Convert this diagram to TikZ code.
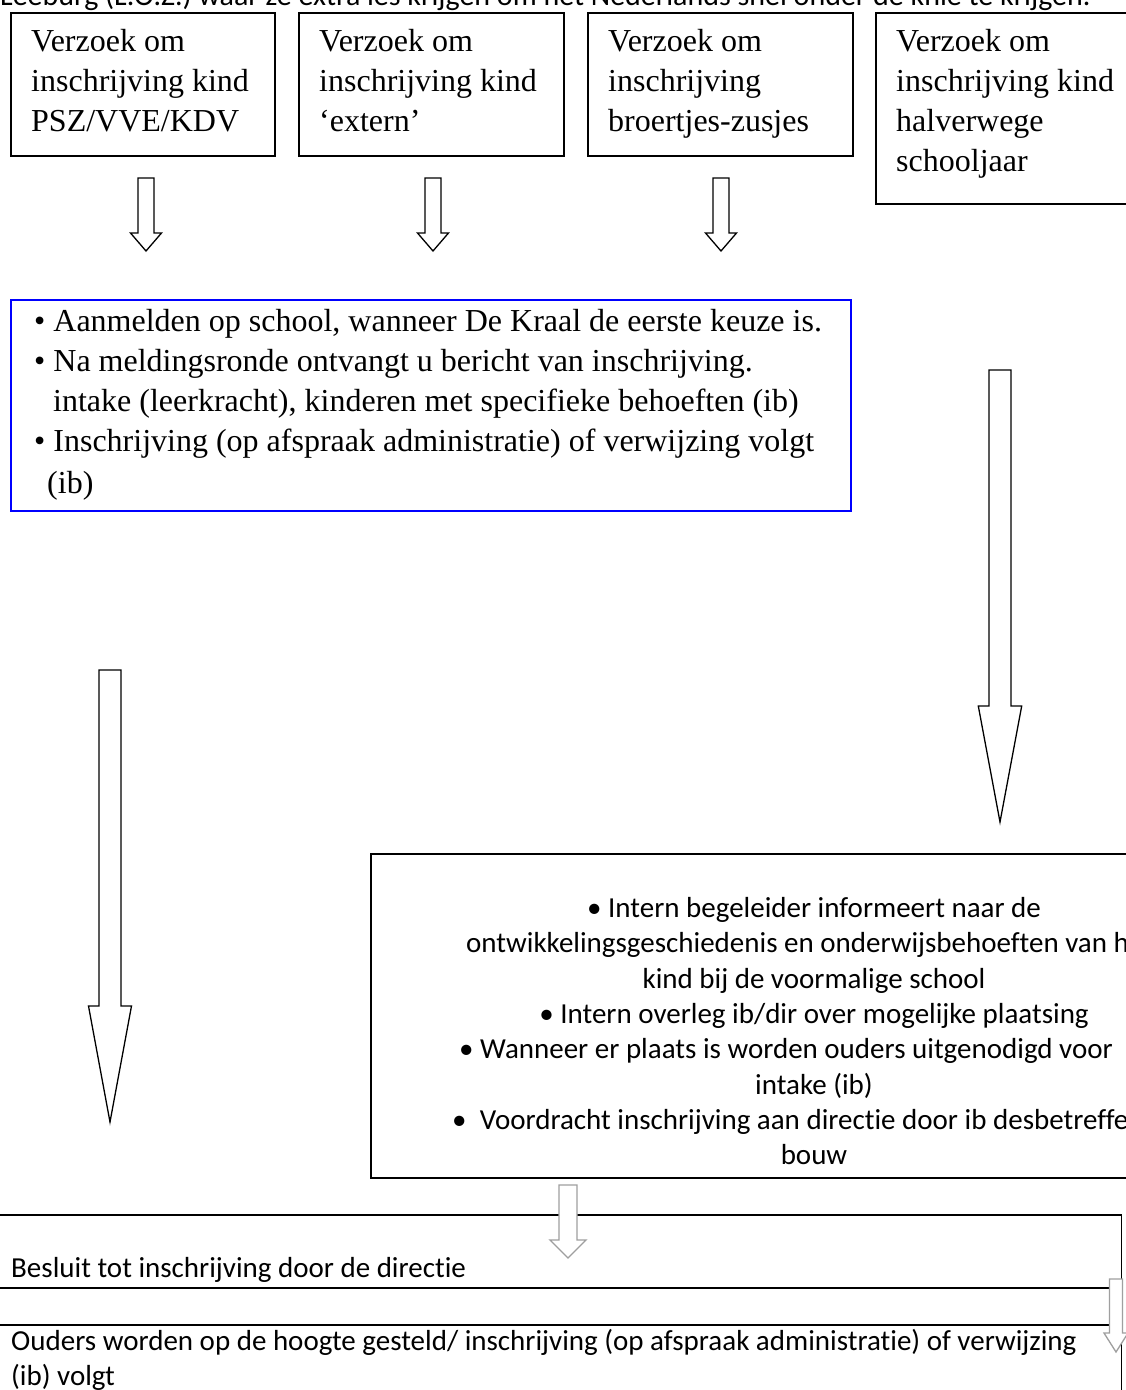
\documentclass[tikz,border=0pt]{standalone}
\usepackage{fontspec}
\setmainfont{Liberation Serif}
\newfontfamily\calfont[Ligatures=NoCommon]{Carlito}
\definecolor{bblue}{RGB}{0,0,255}
\tikzset{
  boxline/.style={draw=black, line width=1.5pt, inner sep=0pt, fill=none},
  sertext/.style={font=\fontsize{32}{40}\selectfont, inner sep=0pt, anchor=base west},
  caltext/.style={font=\calfont\fontsize{29}{35.5}\selectfont, inner sep=0pt},
  blockarrow/.style={draw=black, line width=1.3pt, fill=white, line join=miter},
  greyarrow/.style={draw=gray!75, line width=1.3pt, fill=white, line join=miter},
}
% style, x, ytop, yhead, ytip, shaft half width, head half width
\newcommand\blockarr[7]{%
  \draw[#1] (#2-#6,#3) -- (#2+#6,#3) -- (#2+#6,#4) -- (#2+#7,#4) -- (#2,#5)
    -- (#2-#7,#4) -- (#2-#6,#4) -- cycle;}
\begin{document}
\begin{tikzpicture}[x=1pt,y=-1pt]
\useasboundingbox (0,0) rectangle (1126,1390);
\clip (0,0) rectangle (1126,1390);
\fill[white] (0,0) rectangle (1126,1390);

% cut-off text line at the top
\node[caltext, font=\calfont\fontsize{30}{36}\selectfont, anchor=base west] (toptext) at (0,5) {Leeburg (L.O.Z.) waar ze extra les krijgen om het Nederlands snel onder de knie te krijgen.};

% top request boxes
\node[boxline, anchor=north west, minimum width=264pt, minimum height=143pt] (b1) at (10,12) {};
\node[boxline, anchor=north west, minimum width=265pt, minimum height=143pt] (b2) at (298,12) {};
\node[boxline, anchor=north west, minimum width=265pt, minimum height=143pt] (b3) at (587,12) {};
\node[boxline, anchor=north west, minimum width=265pt, minimum height=191pt] (b4) at (875,12) {};

\node[sertext] (b1a) at (31,51) {Verzoek om};
\node[sertext] (b1b) at (31,91) {inschrijving kind};
\node[sertext] (b1c) at (31,131) {PSZ/VVE/KDV};

\node[sertext] (b2a) at (319,51) {Verzoek om};
\node[sertext] (b2b) at (319,91) {inschrijving kind};
\node[sertext] (b2c) at (319,131) {‘extern’};

\node[sertext] (b3a) at (608,51) {Verzoek om};
\node[sertext] (b3b) at (608,91) {inschrijving};
\node[sertext] (b3c) at (608,131) {broertjes-zusjes};

\node[sertext] (b4a) at (896,51) {Verzoek om};
\node[sertext] (b4b) at (896,91) {inschrijving kind};
\node[sertext] (b4c) at (896,131) {halverwege};
\node[sertext] (b4d) at (896,171) {schooljaar};

% small arrows below the first three boxes
\blockarr{blockarrow}{146}{178}{233}{251}{8}{15.5}
\blockarr{blockarrow}{433}{178}{233}{251}{8}{15.5}
\blockarr{blockarrow}{721}{178}{233}{251}{8}{15.5}

% blue box
\node[draw=bblue, line width=1.5pt, inner sep=0pt, anchor=north west, minimum width=840pt, minimum height=211pt] (blue) at (10,299) {};
\node[sertext] (bl1) at (34,331) {• Aanmelden op school, wanneer De Kraal de eerste keuze is.};
\node[sertext] (bl2) at (34,371) {• Na meldingsronde ontvangt u bericht van inschrijving.};
\node[sertext] (bl3) at (53,411) {intake (leerkracht), kinderen met specifieke behoeften (ib)};
\node[sertext] (bl4) at (34,451) {• Inschrijving (op afspraak administratie) of verwijzing volgt};
\node[sertext] (bl5) at (47,493) {(ib)};

% long arrows
\blockarr{blockarrow}{1000}{370}{706}{822}{11}{21.7}
\blockarr{blockarrow}{110}{670}{1006}{1122}{11}{21.5}

% intern box
\node[boxline, anchor=north west, minimum width=900pt, minimum height=324pt] (intern) at (370,853) {};
\node[caltext, anchor=base] (i1) at (814,917) {• Intern begeleider informeert naar de};
\node[caltext, anchor=base west] (i2) at (466,952) {ontwikkelingsgeschiedenis en onderwijsbehoeften van het};
\node[caltext, anchor=base] (i3) at (814,988) {kind bij de voormalige school};
\node[caltext, anchor=base] (i4) at (814,1023) {• Intern overleg ib/dir over mogelijke plaatsing};
\node[caltext, anchor=base west] (i5) at (459,1058) {• Wanneer er plaats is worden ouders uitgenodigd voor};
\node[caltext, anchor=base] (i6) at (814,1094) {intake (ib)};
\node[caltext, anchor=base west] (i7) at (452,1129) {•\ \ Voordracht inschrijving aan directie door ib desbetreffende};
\node[caltext, anchor=base] (i8) at (814,1164) {bouw};

% bottom boxes
\node[boxline, anchor=north east, minimum width=1140pt, minimum height=73pt] (besluit) at (1122,1214) {};
\node[caltext, anchor=base west] (bs) at (11,1277) {Besluit tot inschrijving door de directie};
\node[boxline, anchor=north east, minimum width=1140pt, minimum height=80pt] (ouders) at (1122,1324) {};
\node[caltext, anchor=base west] (ou1) at (11,1350) {Ouders worden op de hoogte gesteld/ inschrijving (op afspraak administratie) of verwijzing};
\node[caltext, anchor=base west] (ou2) at (11,1385) {(ib) volgt};

% grey arrows
\blockarr{greyarrow}{568}{1185}{1240}{1258}{9}{18}
\blockarr{greyarrow}{1116}{1279}{1333}{1352}{6.5}{12}
\end{tikzpicture}
\end{document}
